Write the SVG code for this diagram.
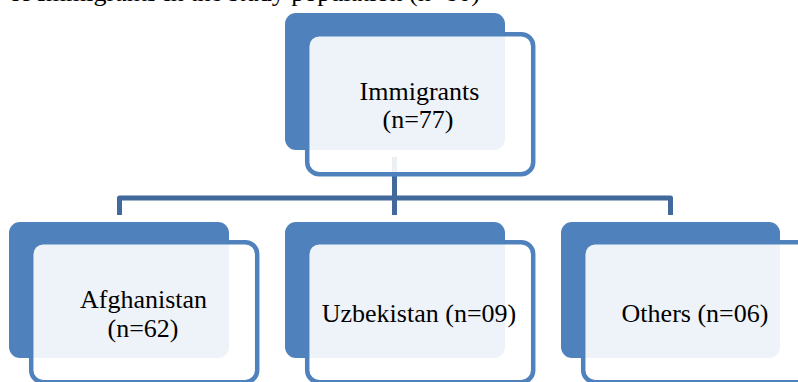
<svg xmlns="http://www.w3.org/2000/svg" width="798" height="382" viewBox="0 0 798 382">
  <style>
    .back { fill: #4F81BD; }
    .front { fill: #FFFFFF; fill-opacity: 0.9; stroke: #4F81BD; stroke-width: 4.5; }
    .conn { fill: none; stroke: #41699C; stroke-width: 5; stroke-linejoin: round; }
    .lbl { font-family: "Liberation Serif", "Times New Roman", serif; font-size: 26px; fill: #000000; text-anchor: middle; }
    .cap { font-family: "Liberation Serif", "Times New Roman", serif; font-size: 26px; fill: #000000; text-anchor: end; }
  </style>
  <rect width="798" height="382" fill="#FFFFFF"/>
  <text class="cap" x="480" y="0.5">of Immigrants in the study population (n=80)</text>
  <g id="connectors">
    <path class="conn" d="M119.5,215 V198 H670.5 V215"/>
    <path class="conn" d="M394.5,157 V215"/>
  </g>
  <g id="node-immigrants">
    <rect class="back" x="285" y="13" width="220" height="137" rx="11"/>
    <rect class="front" x="307.2" y="34.2" width="226" height="140" rx="12"/>
    <text class="lbl" x="419.5" y="100">Immigrants</text>
    <text class="lbl" x="418" y="128">(n=77)</text>
  </g>
  <g id="node-afghanistan">
    <rect class="back" x="9" y="222" width="220" height="136" rx="11"/>
    <rect class="front" x="31.2" y="242.2" width="226" height="140" rx="12"/>
    <text class="lbl" x="143.5" y="308">Afghanistan</text>
    <text class="lbl" x="143" y="337">(n=62)</text>
  </g>
  <g id="node-uzbekistan">
    <rect class="back" x="285" y="222" width="220" height="136" rx="11"/>
    <rect class="front" x="307.2" y="242.2" width="226" height="140" rx="12"/>
    <text class="lbl" x="419" y="322">Uzbekistan (n=09)</text>
  </g>
  <g id="node-others">
    <rect class="back" x="561" y="222" width="219" height="136" rx="11"/>
    <rect class="front" x="583.2" y="242.2" width="226" height="140" rx="12"/>
    <text class="lbl" x="695" y="322">Others (n=06)</text>
  </g>
</svg>
